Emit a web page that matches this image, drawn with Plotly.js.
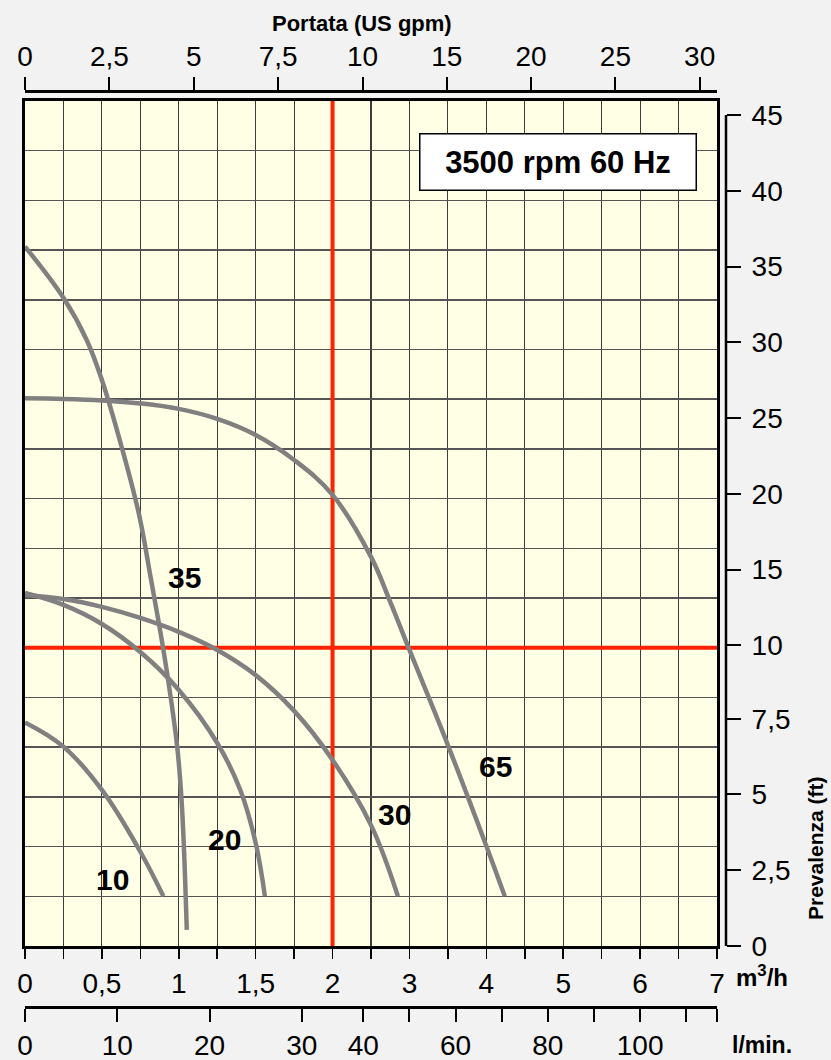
<!DOCTYPE html>
<html><head><meta charset="utf-8">
<script src="https://cdn.plot.ly/plotly-3.0.1.min.js"></script>
<style>html,body{margin:0;padding:0;background:#f2f2f2;}#chart{width:831px;height:1060px;}</style>
</head><body><div id="chart"></div>
<script>
// ---- Data (flow in m3/h, head in ft) ----
const curve10_q = [0, 0.25, 0.5, 0.75, 0.9];
const curve10_h = [7.38, 6.58, 5.15, 3.11, 1.64];
const curve20_q = [0, 0.25, 0.5, 0.75, 1.0, 1.25, 1.4, 1.5, 1.56];
const curve20_h = [13.46, 12.67, 11.41, 9.70, 8.45, 6.70, 5.15, 3.40, 1.64];
const curve30_q = [0, 0.25, 0.5, 0.75, 1.0, 1.25, 1.5, 1.75, 2.0, 2.5, 2.85];
const curve30_h = [13.33, 13.06, 12.54, 11.81, 10.89, 9.77, 8.94, 7.76, 6.14, 3.99, 1.64];
const curve35_q = [0, 0.25, 0.401, 0.5, 0.657, 0.745, 0.82, 0.898, 0.95, 0.992, 1.018, 1.034, 1.052];
const curve35_h = [36.32, 32.94, 30.16, 27.52, 22.04, 18.48, 14.32, 9.84, 8.12, 6.47, 4.82, 3.17, 0.53];
const curve65_q = [0, 0.25, 0.5, 0.75, 1.0, 1.25, 1.5, 1.75, 2.0, 2.5, 2.75, 3.0, 3.5, 4.0, 4.24];
const curve65_h = [26.31, 26.27, 26.17, 25.97, 25.61, 24.95, 23.89, 22.24, 19.93, 15.84, 12.87, 9.77, 6.63, 3.30, 1.64];
const curveNames = ['10', '20', '30', '35', '65'];

const refFlow = 2;        // m3/h (red vertical line)
const refHead = 9.84;     // ft  (red horizontal line, 3 m)

// tick definitions
const m3hTicks = [0,0.25,0.5,0.75,1,1.25,1.5,1.75,2,2.5,3,3.5,4,4.5,5,5.5,6,6.5,7];
const m3hLabels = ['0',' ','0,5',' ','1',' ','1,5',' ','2',' ','3',' ','4',' ','5',' ','6',' ','7'];
const lminTicks = [0,10,20,30,40,50,60,70,80,90,100,110,116.667];
const lminLabels = ['0','10','20','30','40',' ','60',' ','80',' ','100',' ',' '];
const gpmTicks = [0,2.5,5,7.5,10,15,20,25,30];
const gpmLabels = ['0','2,5','5','7,5','10','15','20','25','30'];
const ftTicks = [0,2.5,5,7.5,10,15,20,25,30,35,40,45];
const ftLabels = ['0','2,5','5','7,5','10','15','20','25','30','35','40','45'];
const gridHeadM = [0,0.5,1,1.5,2,2.5,3,4,5,6,7,8,9,10,11,12,13,14];

// ---- chart scales (piecewise, as on the original diagram) ----
function qCol(q){ return q <= 2 ? q*4 : 8 + (q-2)*2; }           // m3/h -> grid column
function mRow(m){ return m <= 3 ? m*2 : 6 + (m-3); }             // metres -> grid row
function ftRow(ft){ return mRow(ft/3.2808); }                    // feet -> grid row
function lminCol(l){ return qCol(l*0.06); }                      // l/min -> column
function gpmCol(g){ return g <= 10 ? g*0.878 : 8.78 + (g-10)*0.4385; } // US gpm -> column

const X_MAX = qCol(7), Y_MAX = mRow(14);

const RED = '#ff2200';
const traces = [
  {type:'scatter', mode:'lines', x:[qCol(refFlow), qCol(refFlow)], y:[0, Y_MAX],
   line:{color:RED, width:4}, hoverinfo:'skip', xaxis:'x', yaxis:'y'},
  {type:'scatter', mode:'lines', x:[0, X_MAX], y:[ftRow(refHead), ftRow(refHead)],
   line:{color:RED, width:4}, hoverinfo:'skip', xaxis:'x', yaxis:'y'}
];
const qs = [curve10_q, curve20_q, curve30_q, curve35_q, curve65_q];
const hs = [curve10_h, curve20_h, curve30_h, curve35_h, curve65_h];
qs.forEach((q,i)=>traces.push({
  type:'scatter', mode:'lines', name: curveNames[i],
  x: q.map(qCol), y: hs[i].map(ftRow),
  line:{color:'#808080', width:4.5, shape:'spline', smoothing:1.1},
  hoverinfo:'skip', xaxis:'x', yaxis:'y'
}));
// empty carriers so the secondary scales are built
traces.push({type:'scatter', mode:'lines', x:[], y:[], xaxis:'x2', yaxis:'y', hoverinfo:'skip'});
traces.push({type:'scatter', mode:'lines', x:[], y:[], xaxis:'x3', yaxis:'y', hoverinfo:'skip'});
traces.push({type:'scatter', mode:'lines', x:[], y:[], xaxis:'x', yaxis:'y2', hoverinfo:'skip'});

const FONT = 'Liberation Sans, Arial, Helvetica, sans-serif';
const plotW = 692/701;
const yDom = [61/916, 906/916];

const layout = {
  width: 831, height: 1060,
  paper_bgcolor:'#f2f2f2', plot_bgcolor:'#ffffe6',
  margin:{l:25, r:105, t:91, b:53, pad:0},
  showlegend:false,
  font:{family:FONT, color:'#000', size:28},
  xaxis:{domain:[0,plotW], range:[0,X_MAX], anchor:'y', side:'bottom',
    tickmode:'array', tickvals:m3hTicks.map(qCol), ticktext:m3hLabels,
    ticks:'outside', ticklen:10, tickwidth:1.5, tickcolor:'#000',
    showgrid:true, gridcolor:'#3c3c3c', gridwidth:1.1,
    showline:true, linecolor:'#000', linewidth:3, mirror:true,
    zeroline:false, fixedrange:true, tickfont:{size:28, family:FONT}},
  yaxis:{domain:yDom, range:[0,Y_MAX], anchor:'x',
    tickmode:'array', tickvals:gridHeadM.map(mRow), showticklabels:false, ticks:'',
    showgrid:true, gridcolor:'#555', gridwidth:1.5,
    showline:true, linecolor:'#000', linewidth:3, mirror:true,
    zeroline:false, fixedrange:true},
  xaxis2:{overlaying:'x', anchor:'free', position:1, side:'top', range:[0,X_MAX],
    tickmode:'array', tickvals:gpmTicks.map(gpmCol), ticktext:gpmLabels,
    ticks:'outside', ticklen:13, tickwidth:2, tickcolor:'#000',
    showline:true, linecolor:'#000', linewidth:2.5, showgrid:false, zeroline:false,
    fixedrange:true, tickfont:{size:28, family:FONT}},
  xaxis3:{overlaying:'x', anchor:'free', position:0, side:'bottom', range:[0,X_MAX],
    tickmode:'array', tickvals:lminTicks.map(lminCol), ticktext:lminLabels, tickangle:0,
    ticks:'outside', ticklen:13, tickwidth:2, tickcolor:'#000',
    showline:true, linecolor:'#000', linewidth:2.5, showgrid:false, zeroline:false,
    fixedrange:true, tickfont:{size:28, family:FONT}},
  yaxis2:{overlaying:'y', anchor:'free', position:1, side:'right', range:[0,Y_MAX],
    tickmode:'array', tickvals:ftTicks.map(ftRow), ticktext:ftLabels,
    ticks:'outside', ticklen:14, tickwidth:2, tickcolor:'#000', ticklabelstandoff:5,
    showline:false, showgrid:false, zeroline:false, fixedrange:true,
    tickfont:{size:28, family:FONT}},
  shapes:[
    {type:'line', xref:'paper', yref:'y', x0:1, x1:1, y0:ftRow(ftTicks[0]), y1:ftRow(ftTicks[ftTicks.length-1]),
     line:{color:'#000', width:2.5}, layer:'above'}
  ],
  annotations:[
    {xref:'paper', yref:'paper', x:0.4807, y:1.0742, text:'<b>Portata (US gpm)</b>', showarrow:false,
     font:{size:22, family:FONT}, xanchor:'center', yanchor:'middle'},
    {xref:'paper', yref:'paper', x:1.1284, y:0.1736, text:'<b>Prevalenza (ft)</b>', showarrow:false,
     textangle:-90, font:{size:21, family:FONT}, xanchor:'center', yanchor:'middle'},
    {xref:'paper', yref:'paper', x:1.0514, y:0.0338, text:'<b>m<sup>3</sup>/h</b>', showarrow:false,
     font:{size:24, family:FONT}, xanchor:'center', yanchor:'middle'},
    {xref:'paper', yref:'paper', x:1.0514, y:-0.0415, text:'<b>l/min.</b>', showarrow:false,
     font:{size:23, family:FONT}, xanchor:'center', yanchor:'middle'},
    {xref:'paper', yref:'paper', x:0.761, y:0.923, text:'<b>3500 rpm 60 Hz</b>', showarrow:false,
     font:{size:31, family:FONT}, bgcolor:'#ffffff', bordercolor:'#000', borderwidth:1.5,
     borderpad:2, width:271, height:51, xanchor:'center', yanchor:'middle', align:'center', valign:'middle'},
    {xref:'x', yref:'y', x:4.136, y:7.404, text:'<b>35</b>', showarrow:false, font:{size:30, family:FONT}},
    {xref:'x', yref:'y', x:2.263, y:1.348, text:'<b>10</b>', showarrow:false, font:{size:30, family:FONT}},
    {xref:'x', yref:'y', x:5.177, y:2.133, text:'<b>20</b>', showarrow:false, font:{size:30, family:FONT}},
    {xref:'x', yref:'y', x:9.6, y:2.636, text:'<b>30</b>', showarrow:false, font:{size:30, family:FONT}},
    {xref:'x', yref:'y', x:12.25, y:3.602, text:'<b>65</b>', showarrow:false, font:{size:30, family:FONT}}
  ]
};

Plotly.newPlot('chart', traces, layout, {displayModeBar:false, staticPlot:true});
</script>
</body></html>
